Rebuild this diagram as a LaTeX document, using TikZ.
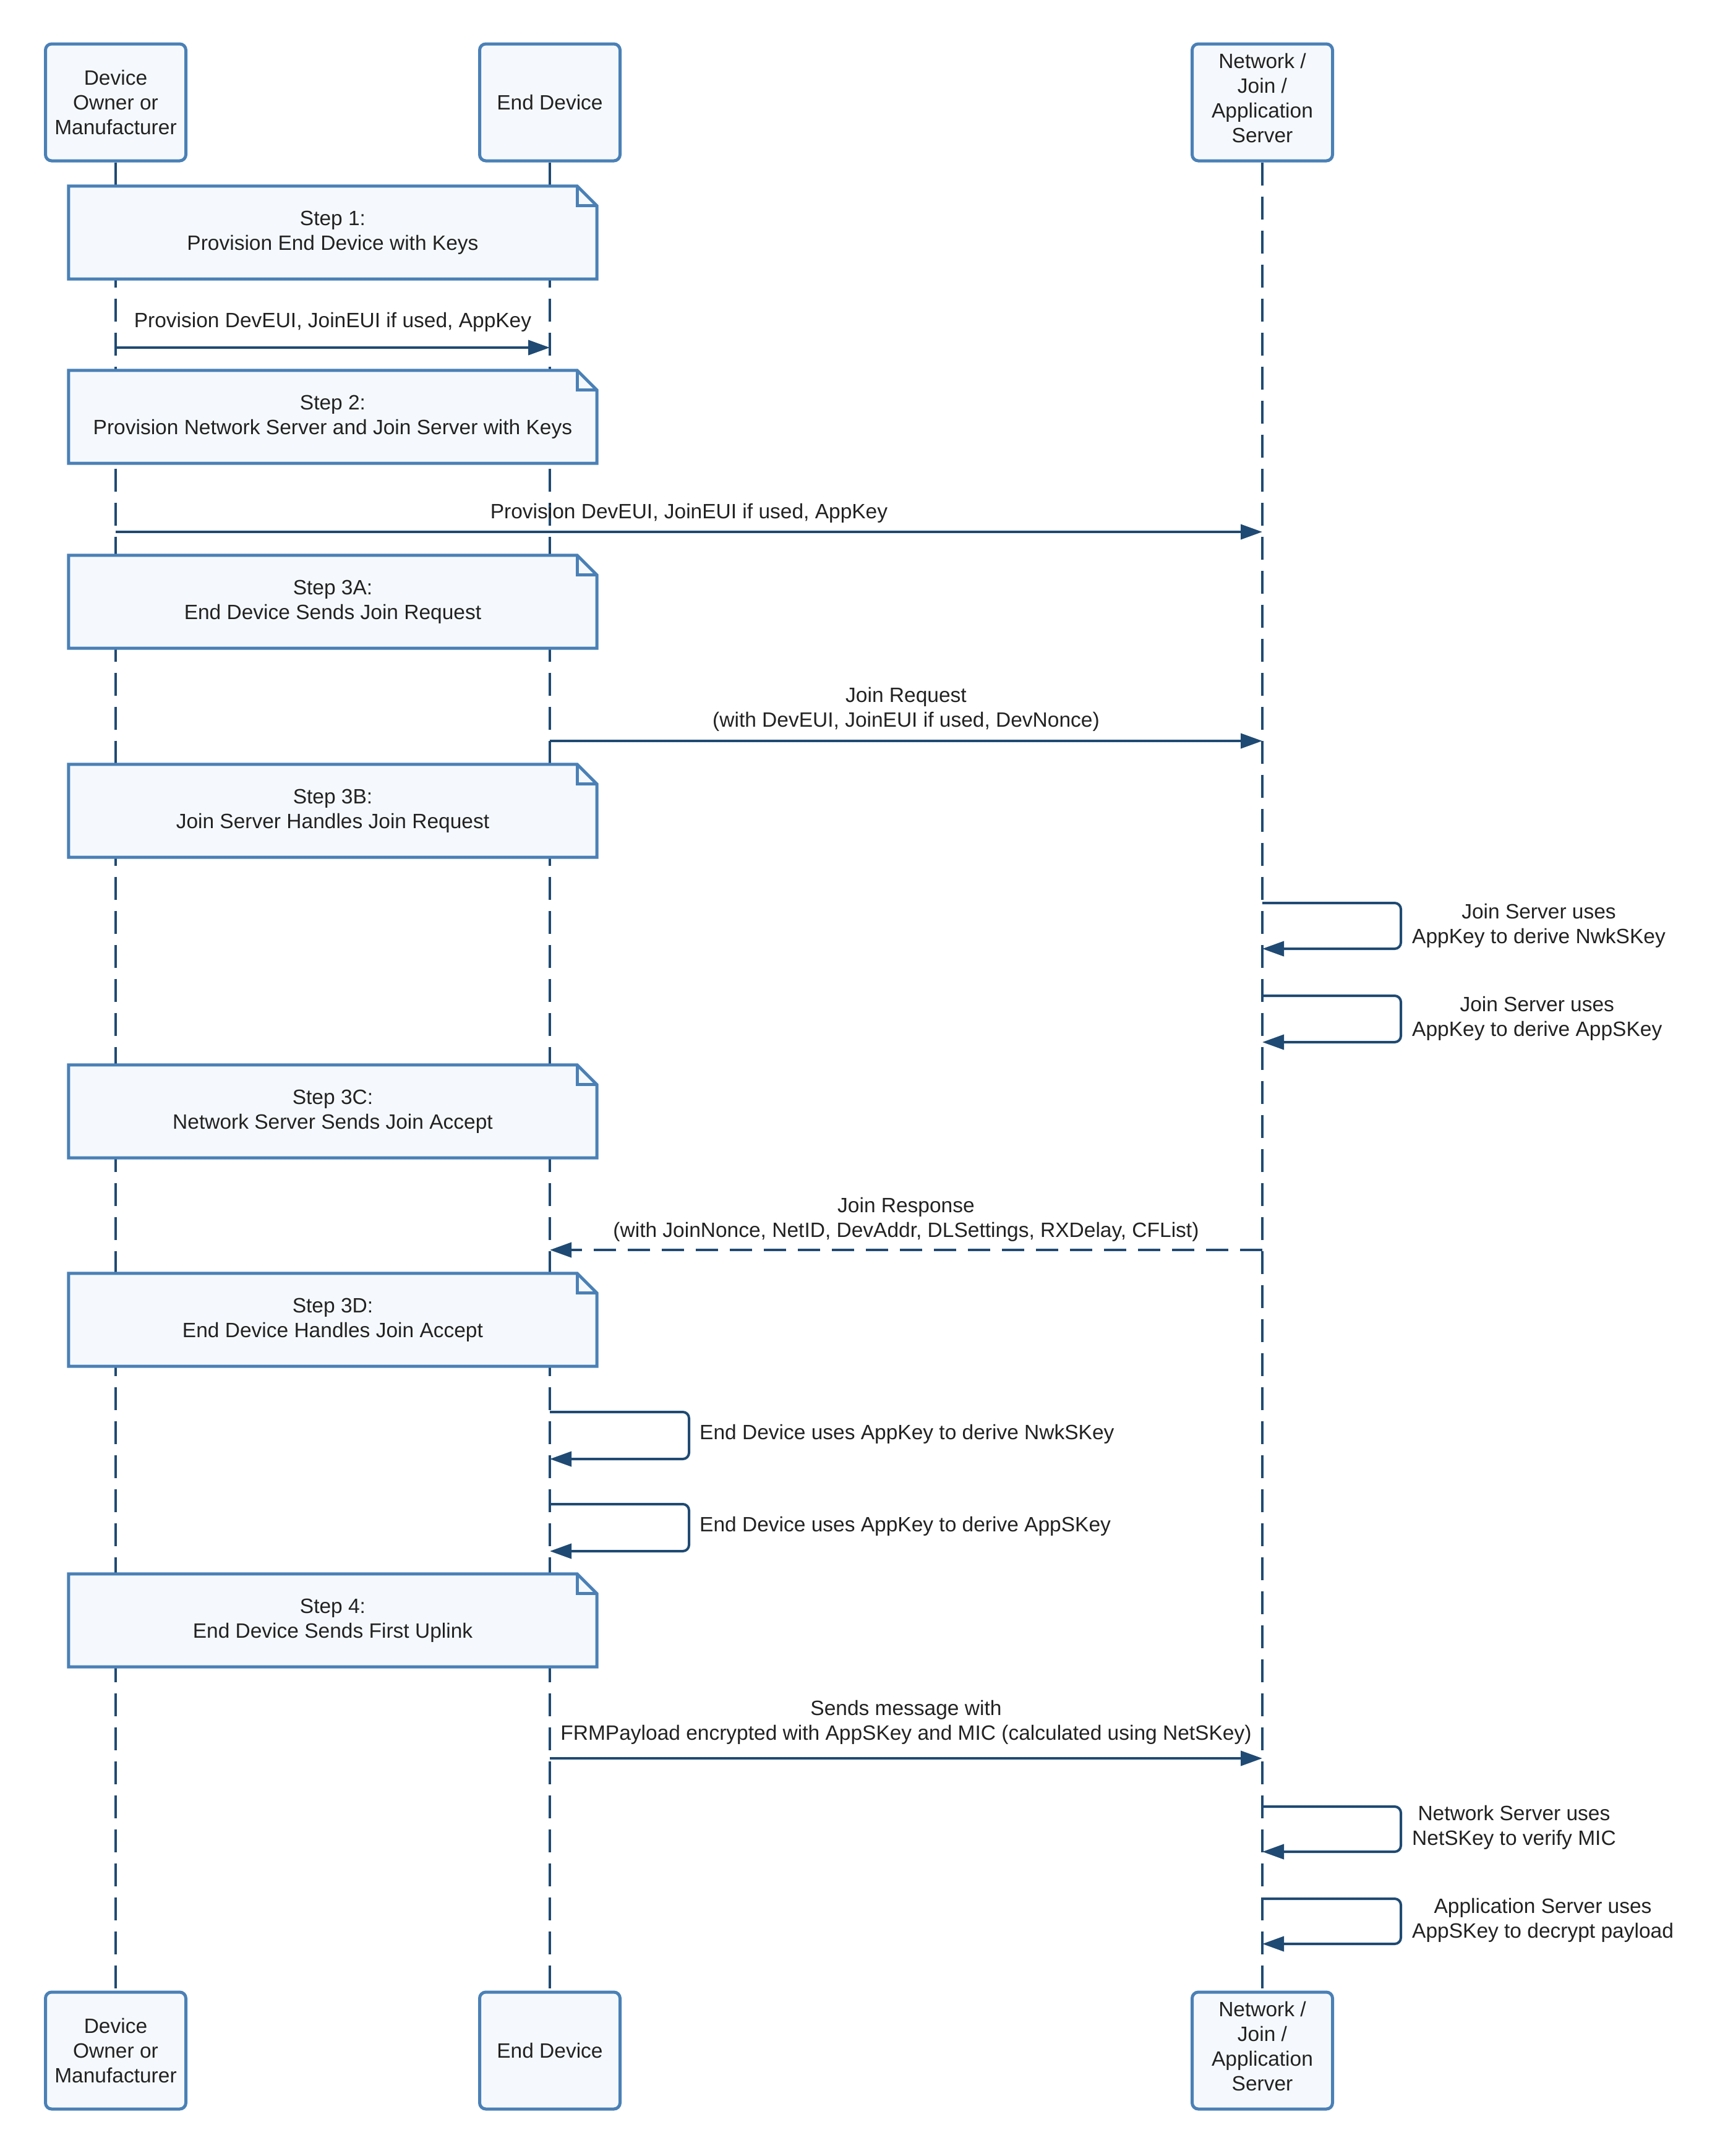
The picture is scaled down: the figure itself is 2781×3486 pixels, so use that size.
\documentclass[tikz,border=0pt]{standalone}
\usepackage{fontspec}
\setmainfont{Liberation Sans}
\usetikzlibrary{arrows.meta}
\definecolor{boxline}{HTML}{4A80B6}
\definecolor{boxfill}{HTML}{F5F9FD}
\definecolor{arrowc}{HTML}{1F4A73}
\definecolor{txt}{HTML}{222222}
\pgfdeclarelayer{paper}
\pgfdeclarelayer{lines}
\pgfdeclarelayer{bg}
\pgfsetlayers{paper,lines,bg,main}
\begin{document}
\begin{tikzpicture}[x=1pt,y=-1pt,
  every node/.style={font=\fontsize{33.5}{40}\selectfont, text=txt},
  actor/.style={draw=boxline, fill=boxfill, line width=5pt, rounded corners=10pt,
    minimum width=227pt, minimum height=189pt, align=center, inner sep=0pt},
  notebox/.style={minimum width=854pt, minimum height=150pt, align=center, inner sep=0pt},
  noteline/.style={draw=boxline, fill=boxfill, line width=5pt, line join=miter},
  lifeline/.style={draw=arrowc, line width=4pt, dash pattern=on 37pt off 18pt},
  msg/.style={draw=arrowc, line width=4pt, -{Triangle[length=35pt,width=24pt]}},
  reply/.style={msg, dash pattern=on 36pt off 19pt},
  selfmsg/.style={msg, rounded corners=10pt},
  lbl/.style={align=center, inner sep=0pt},
]
\useasboundingbox (0,0) rectangle (2781,3486);
\begin{pgfonlayer}{paper}
\fill[white] (0,0) rectangle (2781,3486);
\end{pgfonlayer}

% actors
\node[actor] (a1) at (187,165.5) {Device\\Owner or\\Manufacturer};
\node[actor] (a2) at (889,165.5) {End Device};
\node[actor] (a3) at (2041,165.5) {Network /\\Join /\\Application\\Server\\[-26pt]\mbox{}};
\node[actor] (b1) at (187,3315.5) {Device\\Owner or\\Manufacturer};
\node[actor] (b2) at (889,3315.5) {End Device};
\node[actor] (b3) at (2041,3315.5) {Network /\\Join /\\Application\\Server\\[-26pt]\mbox{}};

\begin{pgfonlayer}{lines}
\draw[lifeline] (a1.south) -- (b1.north);
\draw[lifeline] (a2.south) -- (b2.north);
\draw[lifeline] (a3.south) -- (b3.north);
\end{pgfonlayer}

% notes
\node[notebox] (s1)  at (538,376)  {Step 1:\\Provision End Device with Keys};
\node[notebox] (s2)  at (538,674)  {Step 2:\\Provision Network Server and Join Server with Keys};
\node[notebox] (s3a) at (538,973)  {Step 3A:\\End Device Sends Join Request};
\node[notebox] (s3b) at (538,1311) {Step 3B:\\Join Server Handles Join Request};
\node[notebox] (s3c) at (538,1797) {Step 3C:\\Network Server Sends Join Accept};
\node[notebox] (s3d) at (538,2134) {Step 3D:\\End Device Handles Join Accept};
\node[notebox] (s4)  at (538,2620) {Step 4:\\End Device Sends First Uplink};
\begin{pgfonlayer}{bg}
\foreach \s in {s1,s2,s3a,s3b,s3c,s3d,s4} {
  \draw[noteline] (\s.south west) -- (\s.north west) -- ([xshift=-32pt]\s.north east)
    -- ([yshift=-32pt]\s.north east) -- (\s.south east) -- cycle;
  \draw[boxline, line width=5pt, line join=miter] ([xshift=-32pt]\s.north east)
    -- ([xshift=-32pt,yshift=-32pt]\s.north east) -- ([yshift=-32pt]\s.north east);
}
\end{pgfonlayer}

% message end points on lifelines
\coordinate (m1s) at (187,562);  \coordinate (m1e) at (889,562);
\coordinate (m2s) at (187,860);  \coordinate (m2e) at (2041,860);
\coordinate (m3s) at (889,1198); \coordinate (m3e) at (2041,1198);
\coordinate (l1s) at (2041,1460); \coordinate (l1e) at (2041,1534);
\coordinate (l2s) at (2041,1610); \coordinate (l2e) at (2041,1685);
\coordinate (m4s) at (2041,2021); \coordinate (m4e) at (889,2021);
\coordinate (l3s) at (889,2283); \coordinate (l3e) at (889,2359);
\coordinate (l4s) at (889,2432); \coordinate (l4e) at (889,2508);
\coordinate (m5s) at (889,2843); \coordinate (m5e) at (2041,2843);
\coordinate (l5s) at (2041,2921); \coordinate (l5e) at (2041,2994);
\coordinate (l6s) at (2041,3070); \coordinate (l6e) at (2041,3143);

% messages
\draw[msg] (m1s) -- (m1e);
\node[lbl] (t1) at (538,521) {Provision DevEUI, JoinEUI if used, AppKey};
\draw[msg] (m2s) -- (m2e);
\node[lbl] (t2) at (1114,830) {Provision DevEUI, JoinEUI if used, AppKey};
\draw[msg] (m3s) -- (m3e);
\node[lbl] (t3) at (1465,1147) {Join Request\\(with DevEUI, JoinEUI if used, DevNonce)};

\draw[selfmsg] (l1s) -- ++(224,0) -- ++(0,74) -- (l1e);
\node[lbl, anchor=west] (t4) at (2283,1497) {Join Server uses\\AppKey to derive NwkSKey};
\draw[selfmsg] (l2s) -- ++(224,0) -- ++(0,75) -- (l2e);
\node[lbl, anchor=west] (t5) at (2283,1647) {Join Server uses\\AppKey to derive AppSKey};

\draw[reply] (m4s) -- (m4e);
\node[lbl] (t6) at (1465,1972) {Join Response\\(with JoinNonce, NetID, DevAddr, DLSettings, RXDelay, CFList)};

\draw[selfmsg] (l3s) -- ++(225,0) -- ++(0,76) -- (l3e);
\node[lbl, anchor=west] (t7) at (1131,2319) {End Device uses AppKey to derive NwkSKey};
\draw[selfmsg] (l4s) -- ++(225,0) -- ++(0,76) -- (l4e);
\node[lbl, anchor=west] (t8) at (1131,2468) {End Device uses AppKey to derive AppSKey};

\draw[msg] (m5s) -- (m5e);
\node[lbl] (t9) at (1465,2785) {Sends message with\\FRMPayload encrypted with AppSKey and MIC (calculated using NetSKey)};

\draw[selfmsg] (l5s) -- ++(224,0) -- ++(0,73) -- (l5e);
\node[lbl, anchor=west] (t10) at (2283,2955) {Network Server uses\\NetSKey to verify MIC};
\draw[selfmsg] (l6s) -- ++(224,0) -- ++(0,73) -- (l6e);
\node[lbl, anchor=west] (t11) at (2283,3105) {Application Server uses\\AppSKey to decrypt payload};
\end{tikzpicture}
\end{document}
